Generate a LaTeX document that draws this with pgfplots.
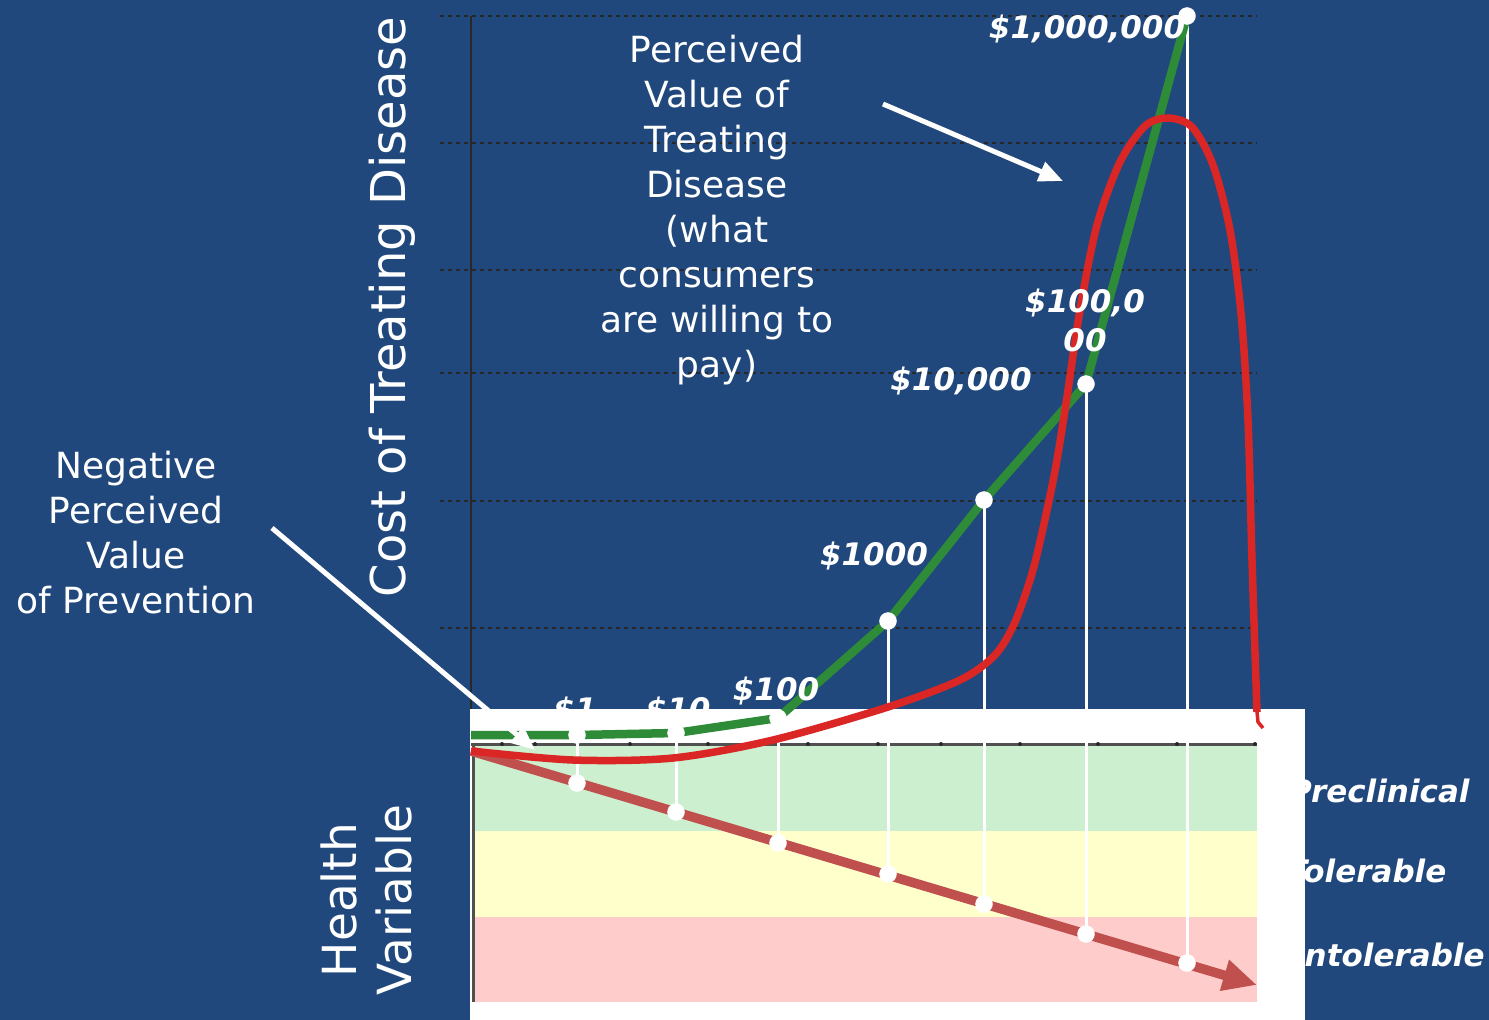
\documentclass[border=0pt]{standalone}
\usepackage{pgfplots}
\pgfplotsset{compat=1.18}
\usepackage{fontspec}
\setmainfont{DejaVu Sans}
\usetikzlibrary{arrows.meta}

\definecolor{bg}{RGB}{32,72,124}
\definecolor{costgreen}{RGB}{46,139,56}
\definecolor{valred}{RGB}{218,38,36}
\definecolor{healthred}{RGB}{192,80,77}
\definecolor{bandgreen}{RGB}{204,239,208}
\definecolor{bandyellow}{RGB}{255,255,204}
\definecolor{bandpink}{RGB}{255,204,204}
\definecolor{gridgray}{RGB}{40,40,40}
\definecolor{framegray}{RGB}{80,80,80}

\newcommand\costfont{\fontsize{31}{39}\selectfont\bfseries\itshape}
\newcommand\notefont{\fontsize{36}{45}\selectfont}

\begin{document}
\begin{tikzpicture}
\begin{axis}[
  width=1489pt, height=1020pt, scale only axis,
  xmin=0, xmax=1489, ymin=0, ymax=1020, y dir=reverse,
  hide axis, clip=false,
]
% background
\fill[bg] (axis cs:0,0) rectangle (axis cs:1489,1020);

% dashed grid of the cost axis
\foreach \g in {16,143,270,373,501,628}{
  \edef\tmp{\noexpand\draw[gridgray, line width=1.2pt, dash pattern=on 4pt off 4pt]
    (axis cs:440,\g) -- (axis cs:1257,\g);}\tmp
}
% cost axis line
\draw[gridgray, line width=1.5pt] (axis cs:471,16) -- (axis cs:471,709);

% health state labels (partly hidden behind the panel)
\node[anchor=west, text=white, font=\costfont, inner sep=0] at (axis cs:1289,791) {Preclinical};
\node[anchor=west, text=white, font=\costfont, inner sep=0] at (axis cs:1286,871) {Tolerable};
\node[anchor=west, text=white, font=\costfont, inner sep=0] at (axis cs:1293,955) {Intolerable};

% lowest cost labels, partly hidden behind the panel
\node[text=white, font=\costfont, inner sep=0] at (axis cs:575,711) {\$1};
\node[text=white, font=\costfont, inner sep=0] at (axis cs:678,711) {\$10};

% health variable panel
\fill[white] (axis cs:470,709) rectangle (axis cs:1305,1020);
\fill[bandgreen]  (axis cs:473,744) rectangle (axis cs:1257,831);
\fill[bandyellow] (axis cs:473,831) rectangle (axis cs:1257,917);
\fill[bandpink]   (axis cs:473,917) rectangle (axis cs:1257,1002);
\draw[framegray, line width=3pt] (axis cs:471,744) -- (axis cs:1257,744);
\draw[framegray, line width=3pt] (axis cs:473,744) -- (axis cs:473,1002);
\foreach \t in {577,676,778,888,984,1086,1187}{
  \edef\tmp{\noexpand\draw[framegray, line width=1.5pt] (axis cs:\t,744) -- (axis cs:\t,750);}\tmp
}
\foreach \t in {502,535,630,708,808,878,941,1020,1098,1177,1255}{
  \edef\tmp{\noexpand\fill[gridgray] (axis cs:\t,744) circle[radius=2pt];}\tmp
}

% drop lines from each cost to the matching health state
\addplot[white, line width=3pt] coordinates {(577,735) (577,783)};
\addplot[white, line width=3pt] coordinates {(676,733) (676,812)};
\addplot[white, line width=3pt] coordinates {(778,718) (778,843)};
\addplot[white, line width=3pt] coordinates {(888,621) (888,874)};
\addplot[white, line width=3pt] coordinates {(984,500) (984,904)};
\addplot[white, line width=3pt] coordinates {(1086,384) (1086,934)};
\addplot[white, line width=3pt] coordinates {(1187,16) (1187,963)};

% health variable getting worse
\addplot[healthred, line width=9.5pt, -{Triangle[length=34pt,width=30pt]}]
  coordinates {(471,751) (1257,985)};

% cost of treating disease
\addplot[costgreen, line width=8.5pt, line join=round]
  coordinates {(471,735) (577,735) (676,733) (778,718) (888,621) (984,500) (1086,384) (1187,16)};

% perceived value of treating disease
\addplot[valred, line width=7.5pt, smooth, tension=0.5]
  coordinates {(471,751) (573,760) (673,758) (773,740)
               (888,707) (960,680) (995,655) (1015,622)
               (1033,570) (1047,510) (1057,460) (1067,397)
               (1080,310) (1097,225) (1120,162) (1145,126)
               (1168,118) (1192,127) (1213,165) (1230,230) (1241,313)
               (1248,420) (1252,560) (1257,712)};
\addplot[valred, line width=3.5pt] coordinates {(1257,712) (1258,722) (1263,728)};

% points on the cost line
\addplot[only marks, mark=*, mark size=8.5pt, white]
  coordinates {(577,735) (676,733) (778,718) (888,621) (984,500) (1086,384) (1187,16)};
% points on the health line
\addplot[only marks, mark=*, mark size=8.5pt, white]
  coordinates {(577,783) (676,812) (778,843) (888,874) (984,904) (1086,934) (1187,963)};

% cost labels
\node[text=white, font=\costfont, inner sep=0] at (axis cs:776,691) {\$100};
\node[text=white, font=\costfont, inner sep=0] at (axis cs:874,556) {\$1000};
\node[text=white, font=\costfont, inner sep=0] at (axis cs:961,381) {\$10,000};
\node[text=white, font=\costfont, inner sep=0, align=center] at (axis cs:1085,320) {\$100,0\\00};
\node[text=white, font=\costfont, inner sep=0] at (axis cs:1087,29) {\$1,000,000};

% annotations
\node[text=white, font=\notefont, align=center, inner sep=0] at (axis cs:717,210)
  {Perceived\\Value of\\Treating\\Disease\\(what\\consumers\\are willing to\\pay)};
\draw[white, line width=5pt, -{Triangle[length=24pt,width=20pt]}]
  (axis cs:883,104) -- (axis cs:1063,181);

\node[text=white, font=\notefont, align=center, inner sep=0] at (axis cs:136,533)
  {Negative\\Perceived\\Value\\of Prevention};
\draw[white, line width=5pt, -{Triangle[length=24pt,width=20pt]}]
  (axis cs:272,528) -- (axis cs:535,750);

% axis titles
\node[rotate=90, text=white, font=\fontsize{48}{58}\selectfont, inner sep=0]
  at (axis cs:392,307) {Cost of Treating Disease};
\node[rotate=90, text=white, font=\fontsize{47}{55}\selectfont, align=center, inner sep=0]
  at (axis cs:366,900) {Health\\Variable};

\coordinate (ll) at (axis cs:0,1020);
\coordinate (ur) at (axis cs:1489,0);
\end{axis}
\pgfresetboundingbox
\useasboundingbox (ll) rectangle (ur);
\end{tikzpicture}
\end{document}
